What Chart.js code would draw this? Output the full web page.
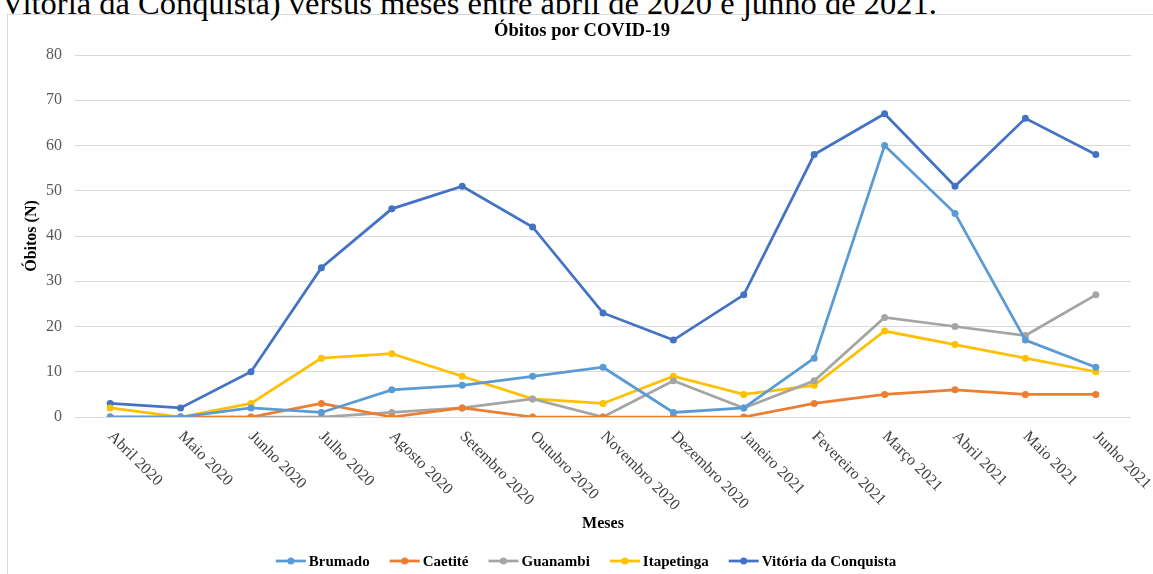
<!DOCTYPE html>
<html>
<head>
<meta charset="utf-8">
<script src="https://cdn.jsdelivr.net/npm/chart.js@4.4.1/dist/chart.umd.min.js"></script>
<style>
  html, body { margin: 0; padding: 0; background: #fff; overflow: hidden; }
  body { width: 1153px; height: 574px; position: relative; }
  #caption {
    position: absolute; left: 1px; top: -15px; white-space: nowrap;
    font-family: "Liberation Serif", serif; font-size: 32.5px; line-height: 36px; color: #000;
  }
  #frame {
    position: absolute; left: 7px; top: 14px; width: 1200px; height: 600px;
    border: 1px solid #d9d9d9;
  }
  #wrap { position: absolute; left: 0; top: 0; width: 1153px; height: 574px; }
</style>
</head>
<body>
<div id="frame"></div>
<div id="caption">Vitória da Conquista) versus meses entre abril de 2020 e junho de 2021.</div>
<div id="wrap"><canvas id="obitosChart"></canvas></div>
<script>
const meses = ['Abril 2020', 'Maio 2020', 'Junho 2020', 'Julho 2020', 'Agosto 2020', 'Setembro 2020',
  'Outubro 2020', 'Novembro 2020', 'Dezembro 2020', 'Janeiro 2021', 'Fevereiro 2021', 'Março 2021',
  'Abril 2021', 'Maio 2021', 'Junho 2021'];

const brumado     = [0, 0, 2, 1, 6, 7, 9, 11, 1, 2, 13, 60, 45, 17, 11];
const caetite     = [0, 0, 0, 3, 0, 2, 0, 0, 0, 0, 3, 5, 6, 5, 5];
const guanambi    = [0, 0, 0, 0, 1, 2, 4, 0, 8, 2, 8, 22, 20, 18, 27];
const itapetinga  = [2, 0, 3, 13, 14, 9, 4, 3, 9, 5, 7, 19, 16, 13, 10];
const conquista   = [3, 2, 10, 33, 46, 51, 42, 23, 17, 27, 58, 67, 51, 66, 58];

const yTicks = [0, 10, 20, 30, 40, 50, 60, 70, 80];

const serif = '"Liberation Serif", "Times New Roman", serif';

function serie(label, data, color) {
  return {
    label: label,
    data: data,
    borderColor: color,
    backgroundColor: color,
    borderWidth: 2.75,
    pointRadius: 3.5,
    pointHoverRadius: 3.5,
    pointBorderWidth: 0,
    tension: 0
  };
}

// rotated month labels, hanging down to the right like in Excel
const monthLabels = {
  id: 'monthLabels',
  afterDraw(chart) {
    const ctx = chart.ctx;
    const xs = chart.scales.x;
    const top = chart.chartArea.bottom;
    ctx.save();
    ctx.font = '16px ' + serif;
    ctx.fillStyle = '#404040';
    ctx.textAlign = 'left';
    ctx.textBaseline = 'middle';
    chart.data.labels.forEach((lab, i) => {
      const x = xs.getPixelForTick(i);
      ctx.save();
      ctx.translate(x, top + 17);
      ctx.rotate(Math.PI / 4);
      ctx.fillText(lab, 0, 0);
      ctx.restore();
    });
    ctx.restore();
  }
};

// legend: line with a dot, then bold name
const lineLegend = {
  id: 'lineLegend',
  afterDraw(chart) {
    const ctx = chart.ctx;
    const y = 561;
    const lineW = 30, gapText = 3, gapItem = 20;
    ctx.save();
    ctx.font = 'bold 15px ' + serif;
    const items = chart.data.datasets.map(ds => ({
      ds: ds, w: lineW + gapText + ctx.measureText(ds.label).width
    }));
    const total = items.reduce((s, it) => s + it.w, 0) + gapItem * (items.length - 1);
    let x = 586 - total / 2;
    items.forEach(it => {
      ctx.strokeStyle = it.ds.borderColor;
      ctx.lineWidth = 2.75;
      ctx.beginPath();
      ctx.moveTo(x, y);
      ctx.lineTo(x + lineW, y);
      ctx.stroke();
      ctx.fillStyle = it.ds.borderColor;
      ctx.beginPath();
      ctx.arc(x + lineW / 2, y, 3.5, 0, Math.PI * 2);
      ctx.fill();
      ctx.fillStyle = '#000';
      ctx.textAlign = 'left';
      ctx.textBaseline = 'middle';
      ctx.fillText(it.ds.label, x + lineW + gapText, y + 1);
      x += it.w + gapItem;
    });
    ctx.restore();
  }
};

new Chart(document.getElementById('obitosChart'), {
  type: 'line',
  data: {
    labels: meses,
    datasets: [
      serie('Brumado', brumado, '#5B9BD5'),
      serie('Caetité', caetite, '#ED7D31'),
      serie('Guanambi', guanambi, '#A5A5A5'),
      serie('Itapetinga', itapetinga, '#FFC000'),
      serie('Vitória da Conquista', conquista, '#4472C4')
    ]
  },
  options: {
    responsive: true,
    maintainAspectRatio: false,
    animation: false,
    layout: { padding: { left: 33, right: 22, top: 0, bottom: 0 } },
    plugins: {
      legend: { display: false },
      tooltip: { enabled: false },
      title: {
        display: true,
        text: 'Óbitos por COVID-19',
        color: '#000',
        font: { family: serif, size: 18.5, weight: 'bold' },
        padding: { top: 20, bottom: 12.8 }
      }
    },
    scales: {
      x: {
        offset: true,
        grid: { display: false },
        border: { display: false },
        ticks: { display: false },
        title: {
          display: true,
          text: 'Meses',
          color: '#000',
          font: { family: serif, size: 16, weight: 'bold' },
          padding: { top: 0, bottom: 41 }
        },
        afterFit(scale) { scale.height = 157; }
      },
      y: {
        min: 0,
        max: 80,
        afterBuildTicks(scale) { scale.ticks = yTicks.map(v => ({ value: v })); },
        grid: { color: '#d9d9d9', lineWidth: 1, drawTicks: false },
        border: { display: false },
        ticks: {
          padding: 13,
          color: '#595959',
          font: { family: serif, size: 16 }
        },
        title: {
          display: true,
          text: 'Óbitos (N)',
          color: '#000',
          font: { family: serif, size: 16, weight: 'bold' },
          padding: { top: -11, bottom: 0 }
        },
        afterFit(scale) { scale.width = 42; }
      }
    }
  },
  plugins: [monthLabels, lineLegend]
});
</script>
</body>
</html>
